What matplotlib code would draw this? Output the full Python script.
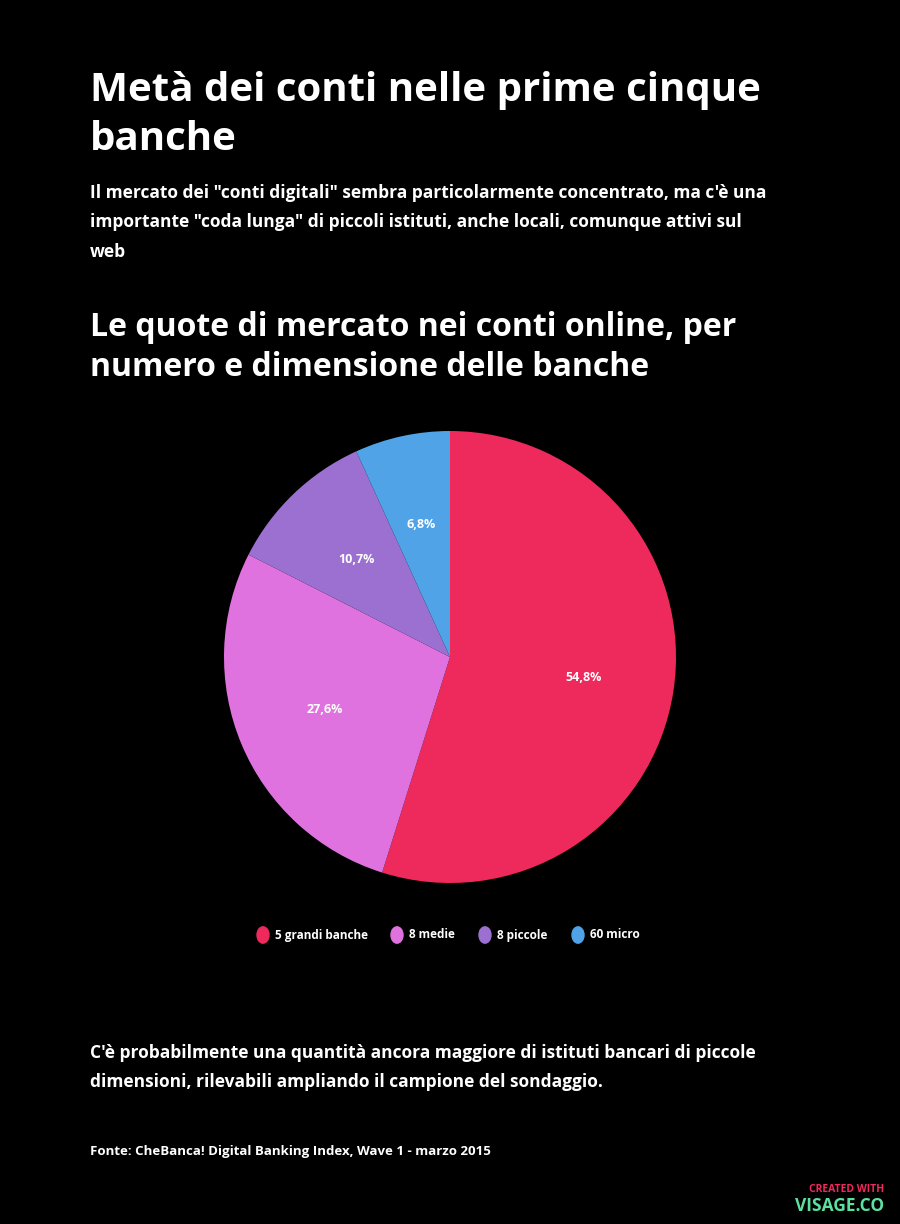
import matplotlib
matplotlib.use("Agg")
import matplotlib.pyplot as plt

labels = ["5 grandi banche", "8 medie", "8 piccole", "60 micro"]
values = [54.8, 27.6, 10.7, 6.8]
value_labels = ["54,8%", "27,6%", "10,7%", "6,8%"]
colors = ["#EE295B", "#E072E0", "#9C70D0", "#4FA3E6"]

plt.rcParams['font.family'] = ['Open Sans', 'DejaVu Sans']
fig = plt.figure(figsize=(9, 12.24), dpi=100, facecolor="black")

def t(x, y, s, size, weight="bold", color="white", **kw):
    fig.text(x/900, 1 - y/1224, s, fontsize=size, fontweight=weight, color=color, va="center", ha="left", **kw)

t(90, 90, "Metà dei conti nelle prime cinque", 29)
t(90, 140, "banche", 29)
t(90, 193, "Il mercato dei \"conti digitali\" sembra particolarmente concentrato, ma c'è una", 12.5)
t(90, 222, "importante \"coda lunga\" di piccoli istituti, anche locali, comunque attivi sul", 12.5)
t(90, 252, "web", 12.5)
t(90, 328, "Le quote di mercato nei conti online, per", 23)
t(90, 367, "numero e dimensione delle banche", 23)
t(90, 1053, "C'è probabilmente una quantità ancora maggiore di istituti bancari di piccole", 12.5)
t(90, 1082, "dimensioni, rilevabili ampliando il campione del sondaggio.", 12.5)
t(90, 1152, "Fonte: CheBanca! Digital Banking Index, Wave 1 - marzo 2015", 9.5)
fig.text(884/900, 1-1189/1224, "CREATED WITH", fontsize=7.5, fontweight="bold", color="#EE295B", ha="right", va="center")
fig.text(884/900, 1-1206/1224, "VISAGE.CO", fontsize=12.5, fontweight="bold", color="#5BE0A0", ha="right", va="center")

r = 226
ax = fig.add_axes([(450-r)/900, 1-(657+r)/1224, 2*r/900, 2*r/1224])
ax.set_facecolor("black")
wedges, texts = ax.pie(values, colors=colors, startangle=90, counterclock=False,
                       labels=value_labels, labeldistance=0.6,
                       textprops=dict(color="white", fontsize=9, fontweight="bold", ha="center", va="center"))
ax.set_xlim(-1, 1)
ax.set_ylim(-1, 1)
ax.set_aspect("equal")

lx = [263, 397, 485, 578]
for x, lab, c in zip(lx, labels, colors):
    fig.patches.append(plt.Circle((x/900, 1-935/1224), 6/900, color=c, transform=fig.transFigure))
    t(x+12, 935, lab, 8.5)

fig.savefig("out.png", dpi=100, facecolor="black")
